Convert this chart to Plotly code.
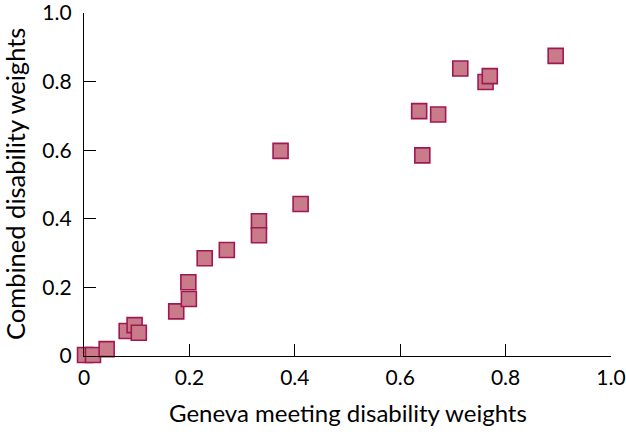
import plotly.graph_objects as go

geneva = [0.002, 0.017, 0.043, 0.081, 0.096, 0.104, 0.175, 0.199, 0.198, 0.229,
          0.271, 0.332, 0.332, 0.373, 0.411, 0.636, 0.642, 0.672, 0.714, 0.762,
          0.770, 0.895]
combined = [0.003, 0.003, 0.020, 0.073, 0.090, 0.068, 0.130, 0.166, 0.215, 0.285,
            0.309, 0.393, 0.352, 0.598, 0.443, 0.714, 0.585, 0.704, 0.838, 0.799,
            0.816, 0.875]

x_ticks = [0, 0.2, 0.4, 0.6, 0.8, 1.0]
x_labels = ["0", "0.2", "0.4", "0.6", "0.8", "1.0"]
y_ticks = [0, 0.2, 0.4, 0.6, 0.8, 1.0]
y_labels = ["0", "0.2", "0.4", "0.6", "0.8", "1.0"]
x_title = "Geneva meeting disability weights"
y_title = "Combined disability weights"

W, H = 626, 437
L, R, T, B = 84, 15, 13, 81
pw, ph = W - L - R, H - T - B

fig = go.Figure()
fig.add_trace(go.Scatter(
    x=geneva, y=combined, mode="markers", cliponaxis=False,
    marker=dict(symbol="square", size=15, color="#c97b8a",
                line=dict(color="#a01852", width=1.6)),
    showlegend=False,
))

font = dict(family="Lato, 'Open Sans', sans-serif", size=21, color="black")
fig.update_layout(
    width=W, height=H,
    margin=dict(l=L, r=R, t=T, b=B),
    paper_bgcolor="white", plot_bgcolor="white",
    font=font,
)
axis_common = dict(
    range=[0, 1], automargin=False, ticklabeloverflow="allow",
    ticks="inside", ticklen=12, tickwidth=1.2, tickcolor="black",
    showline=True, linecolor="black", linewidth=1.2,
    showgrid=False, zeroline=False, tickfont=dict(size=21),
)
fig.update_xaxes(tickvals=x_ticks, ticktext=x_labels, ticklabelstandoff=3, **axis_common)
fig.update_yaxes(tickvals=y_ticks, ticktext=y_labels, ticklabelstandoff=7, **axis_common)

fig.add_annotation(
    text=x_title, xref="paper", yref="paper",
    x=(348 - L) / pw, y=-(412 - (T + ph)) / ph,
    xanchor="center", yanchor="middle", showarrow=False,
    font=dict(size=24),
)
fig.add_annotation(
    text=y_title, xref="paper", yref="paper",
    x=-(L - 15) / pw, y=1 - (184 - T) / ph,
    xanchor="center", yanchor="middle", showarrow=False, textangle=-90,
    font=dict(size=25.5),
)

fig.write_html("out.html", config={"displayModeBar": False},
               post_script="document.body.style.margin='0';")
